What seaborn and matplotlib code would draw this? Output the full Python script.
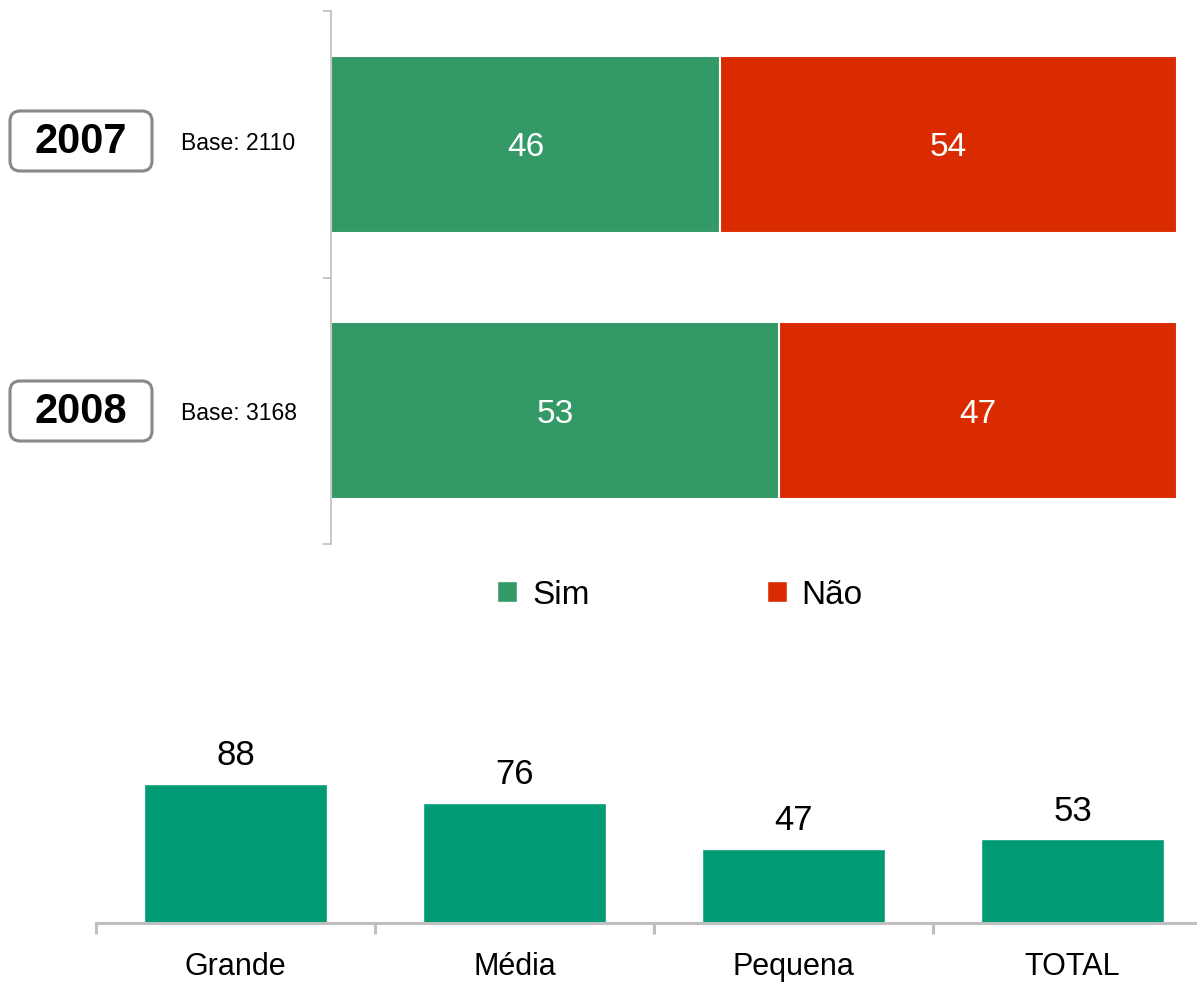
import pandas as pd
import seaborn as sns
import matplotlib.pyplot as plt
from matplotlib.patches import Patch, FancyBboxPatch

anos = ['2007', '2008']
bases = ['Base: 2110', 'Base: 3168']
sim = [46, 53]
nao = [54, 47]

porte = ['Grande', 'Média', 'Pequena', 'TOTAL']
porte_sim = [88, 76, 47, 53]

verde = '#339966'
vermelho = '#DA2A00'
verde2 = '#009A74'
cinza = '#BFBFBF'

sns.set_style('white')
plt.rcParams['font.family'] = ['Liberation Sans', 'DejaVu Sans']
plt.rcParams['text.color'] = 'black'
plt.rcParams['xtick.labelcolor'] = 'black'

W, H = 1197, 987
fig = plt.figure(figsize=(W / 100, H / 100), dpi=100)

def px(x0, y0, x1, y1):
    return [x0 / W, 1 - y1 / H, (x1 - x0) / W, (y1 - y0) / H]

# --- grafico de cima: 2007 x 2008
df = pd.DataFrame({'ano': anos, 'sim': sim, 'nao': nao})
df['total'] = df['sim'] + df['nao']

ax1 = fig.add_axes(px(331, 12, 1177, 545))
sns.barplot(data=df, y='ano', x='total', color=vermelho, width=0.665, orient='h',
            edgecolor='white', linewidth=1.5, saturation=1, ax=ax1)
sns.barplot(data=df, y='ano', x='sim', color=verde, width=0.665, orient='h',
            edgecolor='white', linewidth=1.5, saturation=1, ax=ax1)
ax1.set_xlim(0, 100)
ax1.set_ylim(1.5, -0.5)
for i, row in df.iterrows():
    ax1.text(row['sim'] / 2, i + 0.01, str(row['sim']), color='white', fontsize=24,
             ha='center', va='center')
    ax1.text(row['sim'] + row['nao'] / 2, i + 0.01, str(row['nao']), color='white',
             fontsize=24, ha='center', va='center')
ax1.set_xlabel('')
ax1.set_ylabel('')
ax1.set_xticks([])
ax1.set_yticks([-0.5, 0.5, 1.5])
ax1.set_yticklabels([])
ax1.tick_params(axis='y', length=6, width=1.2, color=cinza, left=True)
for s in ['top', 'right', 'bottom']:
    ax1.spines[s].set_visible(False)
ax1.spines['left'].set_color(cinza)
ax1.spines['left'].set_linewidth(1.2)

centros = [142, 412]
for ano, base, cy in zip(anos, bases, centros):
    caixa = FancyBboxPatch((10 / W, 1 - (cy + 30) / H), 142 / W, 60 / H,
                           boxstyle='round,pad=0,rounding_size=0.0085',
                           mutation_aspect=W / H, transform=fig.transFigure,
                           facecolor='white', edgecolor='#888888', linewidth=2.2)
    fig.patches.append(caixa)
    fig.text(81 / W, 1 - cy / H, ano, fontsize=30, fontweight='bold',
             ha='center', va='center')
    fig.text(181 / W, 1 - (cy + 1) / H, base, fontsize=16.5, ha='left', va='center')

handles = [Patch(facecolor=verde, label='Sim'), Patch(facecolor=vermelho, label='Não')]
fig.legend(handles=handles, loc='center', bbox_to_anchor=(680 / W, 1 - 596 / H),
           ncol=2, frameon=False, fontsize=24, handlelength=0.6, handleheight=0.6,
           handletextpad=0.45, columnspacing=5.3)

# --- grafico de baixo: por porte
ax2 = fig.add_axes(px(96, 766, 96 + 4 * 279, 924))
sns.barplot(x=porte, y=porte_sim, color=verde2, width=0.656, saturation=1, ax=ax2)
ax2.set_ylim(0, 100)
ax2.set_xlim(-0.5, 3.5)
for c in ax2.containers:
    ax2.bar_label(c, fontsize=25, padding=9, color='black')
ax2.set_yticks([])
ax2.set_xticks([-0.5, 0.5, 1.5, 2.5], minor=True)
ax2.tick_params(axis='x', which='major', length=0, labelsize=22, pad=20)
ax2.tick_params(axis='x', which='minor', length=8, width=2.2, color=cinza, bottom=True)
for s in ['top', 'right', 'left']:
    ax2.spines[s].set_visible(False)
ax2.spines['bottom'].set_color(cinza)
ax2.spines['bottom'].set_linewidth(2.2)

plt.savefig('out.png', dpi=100)
